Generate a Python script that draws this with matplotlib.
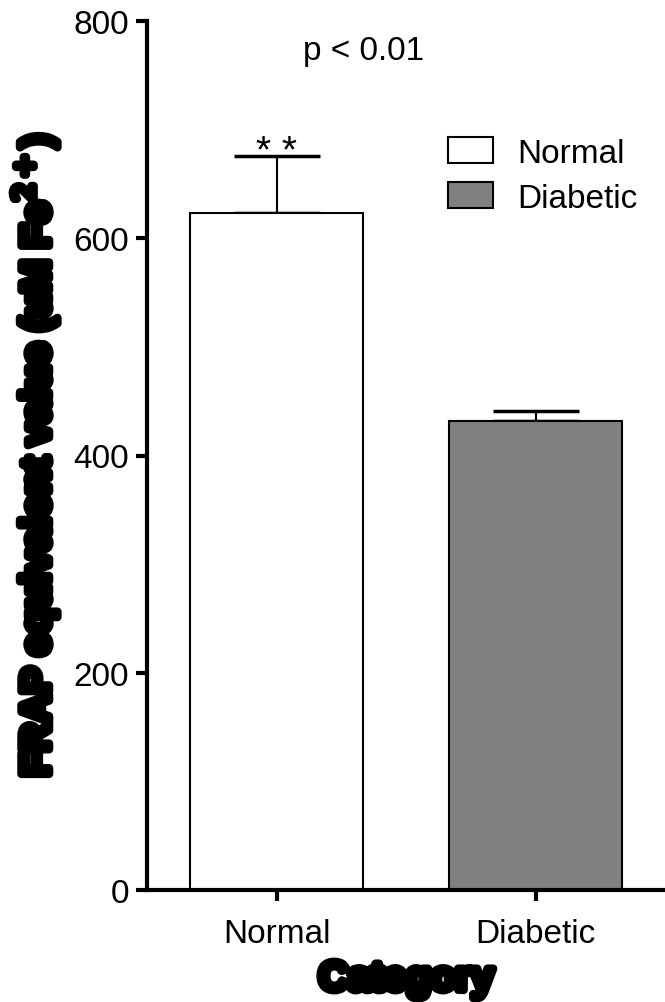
import numpy as np
import matplotlib.pyplot as plt
import matplotlib.patheffects as pe
from matplotlib.patches import Patch

categories = ['Normal', 'Diabetic']
means = [623, 432]
sem = [53, 9]
colors = ['white', '#808080']
yticks = [0, 200, 400, 600, 800]

plt.rcParams['font.family'] = ['Liberation Sans', 'DejaVu Sans']

fig = plt.figure(figsize=(6.65, 10.03), dpi=100)
ax = fig.add_axes([147 / 665, 1 - 891 / 1003, 1 - 147 / 665, (891 - 22) / 1003])

x = np.arange(len(categories))
ax.bar(x, means, width=0.665, color=colors, edgecolor='black', linewidth=1.5, zorder=2)
ax.errorbar(x, means, yerr=[[0, 0], sem], fmt='none', ecolor='black',
            elinewidth=1.5, capsize=31, capthick=2.5, zorder=1)

ax.set_xlim(-0.5, 1.5)
ax.set_ylim(0, 800)
ax.set_yticks(yticks)
ax.set_xticks(x)
ax.set_xticklabels(categories)
for s in ['top', 'right']:
    ax.spines[s].set_visible(False)
for s in ['left', 'bottom']:
    ax.spines[s].set_linewidth(3)
ax.tick_params(axis='both', width=3, length=8, labelsize=24, direction='out', pad=5)
ax.tick_params(axis='x', pad=12)

heavy = [pe.withStroke(linewidth=6, foreground='black')]
ax.set_ylabel('FRAP equivalent value (uM Fe$^{2+}$)', fontsize=29, fontweight='bold',
              path_effects=heavy, labelpad=10)
ax.set_xlabel('Category', fontsize=29, fontweight='bold', path_effects=heavy, labelpad=8)

ax.text(0.335, 773, 'p < 0.01', fontsize=24, ha='center', va='center')
ax.text(0, 679, '* *', fontsize=28, ha='center', va='center')

handles = [Patch(facecolor=c, edgecolor='black', linewidth=1.5) for c in colors]
ax.legend(handles, categories, loc='upper left', bbox_to_anchor=(0.548, 0.886),
          frameon=False, fontsize=24, handlelength=1.35, handleheight=0.85,
          handletextpad=0.75, labelspacing=0.4, borderpad=0)

fig.savefig('out.png', dpi=100)
